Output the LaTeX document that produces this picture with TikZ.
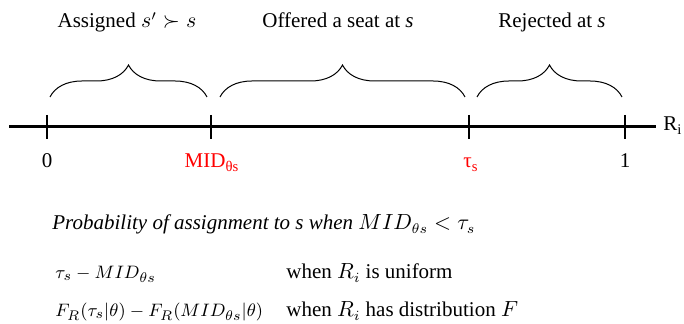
\documentclass[tikz,border=0pt]{standalone}
\usepackage{amsmath, amssymb}
\usepackage{fontspec}
\setmainfont{Liberation Serif}
\usetikzlibrary{decorations.pathreplacing}
\definecolor{myred}{rgb}{1,0,0}

\begin{document}
\begin{tikzpicture}[x=0.5pt, y=-0.5pt, font=\fontsize{10.5}{12.6}\selectfont]
        \useasboundingbox (0,0) rectangle (684,324);
        % 軸と目盛り
        \coordinate (axL) at (9,127);
        \coordinate (axR) at (656,127);
        \draw[line width=1.5pt] (axL) -- (axR);
        \foreach \x/\n in {47/t0, 211/tm, 469/tt, 625/t1} {
            \coordinate (\n top) at (\x,115);
            \coordinate (\n bot) at (\x,139);
            \draw[line width=0.9pt] (\n top) -- (\n bot);
        }
        \node[anchor=base west, inner sep=0pt] (Ri) at (663,131) {R\textsubscript{i}};

        % 目盛りのラベル
        \node[anchor=base, inner sep=0pt] (L0) at (47,168) {0};
        \node[anchor=base, inner sep=0pt, text=myred] (Lm) at (212,168) {MID\textsubscript{θs}};
        \node[anchor=base, inner sep=0pt, text=myred] (Lt) at (471,168) {τ\textsubscript{s}};
        \node[anchor=base, inner sep=0pt] (L1) at (625,168) {1};

        % 括弧（区間）
        \coordinate (b1l) at (50,97);  \coordinate (b1r) at (207,97);
        \coordinate (b2l) at (220,97); \coordinate (b2r) at (465,97);
        \coordinate (b3l) at (477,97); \coordinate (b3r) at (622,97);
        \draw[decorate, decoration={brace, amplitude=16pt}, line width=0.5pt] (b1l) -- (b1r);
        \draw[decorate, decoration={brace, amplitude=16pt}, line width=0.5pt] (b2l) -- (b2r);
        \draw[decorate, decoration={brace, amplitude=16pt}, line width=0.5pt] (b3l) -- (b3r);

        % 区間の名前
        \node[anchor=base, inner sep=0pt] (A1) at (127,28) {Assigned $s' \succ s$};
        \node[anchor=base, inner sep=0pt] (A2) at (338,28) {Offered a seat at \textit{s}};
        \node[anchor=base, inner sep=0pt] (A3) at (552,28) {Rejected at \textit{s}};

        % 確率の式
        \node[anchor=base west, inner sep=0pt] (P0) at (52,230)
            {\textit{Probability of assignment to s} $\mathit{when}\ MID_{\theta s} < \tau_s$};
        \node[anchor=base west, inner sep=0pt, font=\fontsize{9.5}{11.5}\selectfont] (P1) at (55,279)
            {$\tau_s - MID_{\theta s}$};
        \node[anchor=base west, inner sep=0pt] (W1) at (286,279) {when $R_i$ is uniform};
        \node[anchor=base west, inner sep=0pt, font=\fontsize{9.5}{11.5}\selectfont] (P2) at (55,317)
            {$F_R(\tau_s|\theta) - F_R(MID_{\theta s}|\theta)$};
        \node[anchor=base west, inner sep=0pt] (W2) at (286,317) {when $R_i$ has distribution $F$};
    \end{tikzpicture}
\end{document}
